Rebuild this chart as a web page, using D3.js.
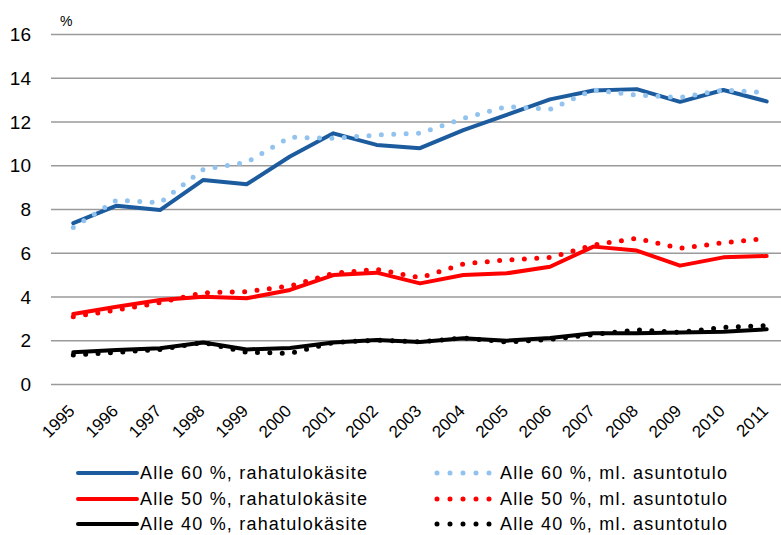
<!DOCTYPE html>
<html><head><meta charset="utf-8">
<script src="https://cdn.jsdelivr.net/npm/d3@7"></script>
<style>
body{margin:0;background:#fff;}
text{font-family:"Liberation Sans",Arial,sans-serif;fill:#000;}
</style></head>
<body><svg id="c" width="781" height="535"></svg>
<script>
const years = ["1995","1996","1997","1998","1999","2000","2001","2002","2003","2004","2005","2006","2007","2008","2009","2010","2011"];
const yTicks = [0,2,4,6,8,10,12,14,16];
const alle60raha = [7.35,8.15,7.95,9.33,9.13,10.4,11.46,10.93,10.78,11.61,12.3,13.01,13.42,13.48,12.9,13.44,12.92];
const alle60asunto = [7.16,8.41,8.29,9.81,10.13,11.28,11.23,11.38,11.46,12.14,12.68,12.56,13.44,13.21,13.1,13.44,13.32];
const alle50raha = [3.2,3.53,3.84,3.99,3.92,4.3,4.98,5.09,4.6,4.98,5.06,5.36,6.28,6.1,5.41,5.79,5.85];
const alle50asunto = [3.08,3.38,3.72,4.17,4.22,4.48,5.06,5.24,4.86,5.49,5.67,5.78,6.35,6.66,6.2,6.46,6.66];
const alle40raha = [1.45,1.55,1.63,1.9,1.58,1.65,1.9,2.01,1.92,2.09,1.98,2.1,2.32,2.32,2.35,2.39,2.5];
const alle40asunto = [1.33,1.45,1.58,1.9,1.45,1.4,1.9,2.0,1.93,2.1,1.92,2.04,2.26,2.47,2.36,2.59,2.67];
const seriesNames = ["Alle 60 %, rahatulokäsite","Alle 60 %, ml. asuntotulo","Alle 50 %, rahatulokäsite","Alle 50 %, ml. asuntotulo","Alle 40 %, rahatulokäsite","Alle 40 %, ml. asuntotulo"];
const seriesValues = [alle60raha, alle60asunto, alle50raha, alle50asunto, alle40raha, alle40asunto];
const seriesColors = ["#1c5c9e","#92c3ee","#ff0000","#ff0000","#000000","#000000"];
const seriesDotted = [false,true,false,true,false,true];

const svg = d3.select("#c");
const x = d3.scalePoint().domain(years).range([73.3, 766.7]);
const y = d3.scaleLinear().domain([0,16]).range([384, 34]);

// gridlines
const yAxis = d3.axisLeft(y).tickValues(yTicks).tickSize(-730).tickPadding(20).tickFormat(d3.format("d"));
const gy = svg.append("g").attr("transform","translate(51,0)").call(yAxis);
gy.select(".domain").remove();
gy.selectAll(".tick line").attr("stroke","#9a9a9a").attr("stroke-width",1.3);
gy.selectAll(".tick text").attr("font-size","19px").attr("x",-20).attr("dy","0.35em").style("font-family","'Liberation Sans',Arial,sans-serif");

svg.append("text").attr("x",60).attr("y",26).attr("font-size","14px").text("%");

// x axis labels
const xAxis = d3.axisBottom(x).tickSize(0).tickPadding(0);
const gx = svg.append("g").attr("transform","translate(0,384)").call(xAxis);
gx.select(".domain").remove();
gx.selectAll(".tick text")
  .attr("font-size","17px")
  .style("font-family","'Liberation Sans',Arial,sans-serif")
  .attr("text-anchor","end")
  .attr("dy",0).attr("y",0)
  .attr("transform","translate(2,28) rotate(-45)");

const line = d3.line().x((d,i)=>x(years[i])).y(d=>y(d));
seriesValues.forEach((vals,k)=>{
  const p = svg.append("path").datum(vals).attr("d",line).attr("fill","none")
    .attr("stroke",seriesColors[k]).attr("stroke-linejoin","round");
  if(seriesDotted[k]) p.attr("stroke-width",5).attr("stroke-linecap","round").attr("stroke-dasharray","0 12.4");
  else p.attr("stroke-width",4).attr("stroke-linecap","round");
});

// legend
const legCols = [{lx0:78,lx1:137,tx:140},{lx0:437,lx1:490,tx:500}];
const legRows = [473,499,524];
seriesNames.forEach((name,k)=>{
  const col = legCols[k%2], ry = legRows[Math.floor(k/2)];
  const p = svg.append("line").attr("x1",col.lx0).attr("x2",col.lx1).attr("y1",ry).attr("y2",ry)
    .attr("stroke",seriesColors[k]);
  if(seriesDotted[k]) p.attr("stroke-width",5).attr("stroke-linecap","round").attr("stroke-dasharray","0 13");
  else p.attr("stroke-width",4).attr("stroke-linecap","round");
  svg.append("text").attr("x",col.tx).attr("y",ry).attr("dy","0.35em").attr("font-size","18px")
    .attr("letter-spacing","1.2px").text(name);
});
</script></body></html>
